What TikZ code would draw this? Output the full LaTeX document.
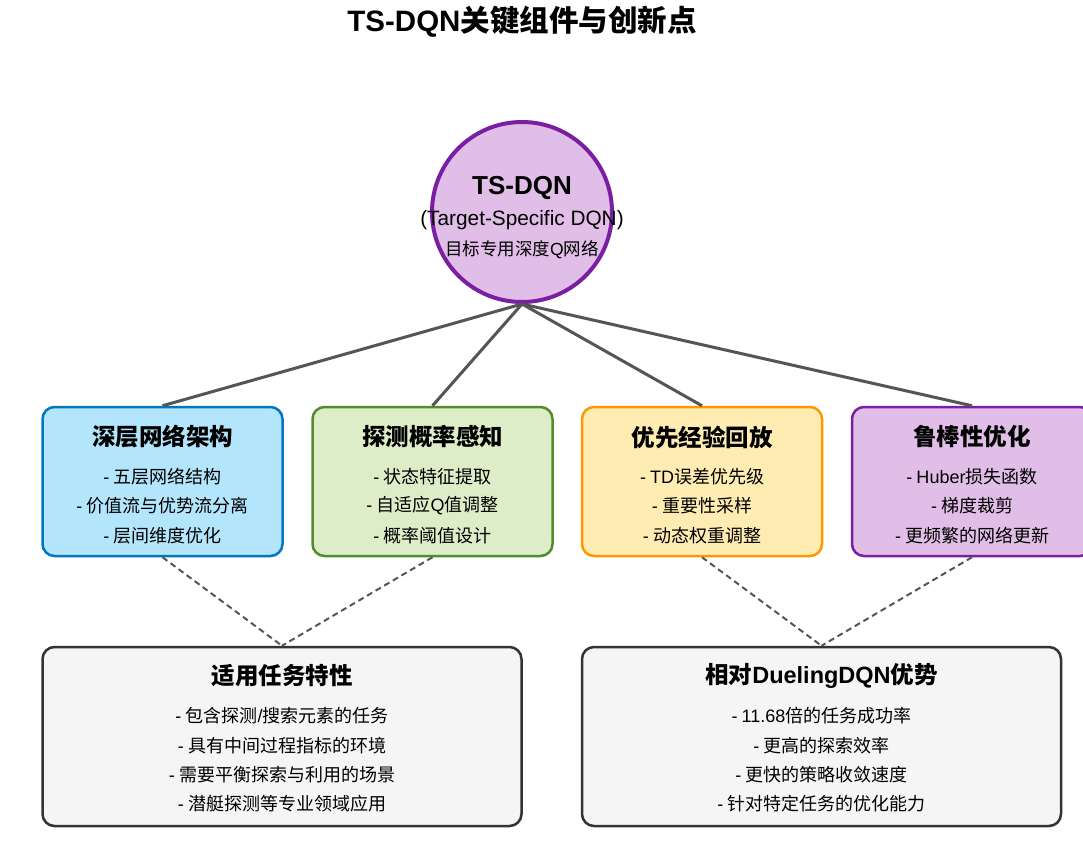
\documentclass[tikz,border=0pt]{standalone}
\usepackage{fontspec}
\setmainfont{Noto Sans CJK SC}
\newfontfamily\en{Liberation Sans}
\usetikzlibrary{calc}

\definecolor{bluefill}{HTML}{B3E5FC}
\definecolor{blueline}{HTML}{0277BD}
\definecolor{greenfill}{HTML}{DCEDC8}
\definecolor{greenline}{HTML}{558B2F}
\definecolor{amberfill}{HTML}{FFECB3}
\definecolor{amberline}{HTML}{FF9800}
\definecolor{violetfill}{HTML}{E1BEE7}
\definecolor{violetline}{HTML}{7B1FA2}
\definecolor{greyfill}{HTML}{F5F5F5}
\definecolor{greyline}{HTML}{333333}
\definecolor{linkgrey}{HTML}{555555}

\newcommand{\dash}{{\en-}\ }

\tikzset{
  compbox/.style={draw, rounded corners=12pt, line width=2.5pt, inner sep=0pt,
    minimum width=240pt, minimum height=149pt},
  sumbox/.style={draw=greyline, fill=greyfill, rounded corners=12pt, line width=2.5pt,
    inner sep=0pt, minimum width=479pt, minimum height=179pt},
  hubnode/.style={circle, draw=violetline, fill=violetfill, line width=4pt,
    minimum size=180pt, inner sep=0pt},
  boxtitle/.style={font=\fontsize{23.5}{26}\selectfont\bfseries, inner sep=0pt},
  itemtext/.style={font=\fontsize{18}{20}\selectfont, inner sep=0pt},
  solidlink/.style={draw=linkgrey, line width=3pt},
  dashlink/.style={draw=linkgrey, line width=2pt, dash pattern=on 6pt off 4pt},
}

\begin{document}
\begin{tikzpicture}[x=1pt,y=-1pt]
\useasboundingbox (0,0) rectangle (1083,848);
\fill[white] (0,0) rectangle (1083,848);

% title
\node[font=\fontsize{29.5}{32}\selectfont\bfseries, inner sep=0pt] (title) at (522,22)
  {{\en TS-DQN}关键组件与创新点};

% central hub
\node[hubnode] (hub) at (522,212) {};

% component boxes
\node[compbox, fill=bluefill, draw=blueline] (b1) at (162.5,481.5) {};
\node[compbox, fill=greenfill, draw=greenline] (b2) at (432.5,481.5) {};
\node[compbox, fill=amberfill, draw=amberline] (b3) at (702,481.5) {};
\node[compbox, fill=violetfill, draw=violetline] (b4) at (972,481.5) {};

% summary boxes
\node[sumbox] (s1) at (282,736.5) {};
\node[sumbox] (s2) at (821.5,736.5) {};

% links from the hub to the components
\foreach \b in {b1,b2,b3,b4}
  \draw[solidlink] (hub.south) -- (\b.north);

% dashed links to the summaries
\draw[dashlink] (b1.south) -- (s1.north);
\draw[dashlink] (b2.south) -- (s1.north);
\draw[dashlink] (b3.south) -- (s2.north);
\draw[dashlink] (b4.south) -- (s2.north);

% hub text
\node[font=\en\fontsize{26}{28}\selectfont\bfseries, inner sep=0pt] (hubA) at (522,188) {TS-DQN};
\node[font=\en\fontsize{20.8}{22}\selectfont, inner sep=0pt] (hubB) at (522,220) {(Target-Specific DQN)};
\node[font=\fontsize{17.5}{19}\selectfont, inner sep=0pt] (hubC) at (522,250) {目标专用深度{\en Q}网络};

% component texts
\node[boxtitle] (b1t) at (162.5,437) {深层网络架构};
\node[itemtext] (b1a) at (162.5,477) {\dash 五层网络结构};
\node[itemtext] (b1b) at (162.5,506) {\dash 价值流与优势流分离};
\node[itemtext] (b1c) at (162.5,536) {\dash 层间维度优化};

\node[boxtitle] (b2t) at (432.5,437) {探测概率感知};
\node[itemtext] (b2a) at (432.5,477) {\dash 状态特征提取};
\node[itemtext] (b2b) at (432.5,506) {\dash 自适应{\en Q}值调整};
\node[itemtext] (b2c) at (432.5,536) {\dash 概率阈值设计};

\node[boxtitle] (b3t) at (702,437) {优先经验回放};
\node[itemtext] (b3a) at (702,477) {\dash {\en TD}误差优先级};
\node[itemtext] (b3b) at (702,506) {\dash 重要性采样};
\node[itemtext] (b3c) at (702,536) {\dash 动态权重调整};

\node[boxtitle] (b4t) at (972,437) {鲁棒性优化};
\node[itemtext] (b4a) at (972,477) {\dash {\en Huber}损失函数};
\node[itemtext] (b4b) at (972,506) {\dash 梯度裁剪};
\node[itemtext] (b4c) at (972,536) {\dash 更频繁的网络更新};

% summary texts
\node[boxtitle] (s1t) at (282,676) {适用任务特性};
\node[itemtext] (s1a) at (282,716) {\dash 包含探测{\en /}搜索元素的任务};
\node[itemtext] (s1b) at (282,746) {\dash 具有中间过程指标的环境};
\node[itemtext] (s1c) at (282,775) {\dash 需要平衡探索与利用的场景};
\node[itemtext] (s1d) at (282,804) {\dash 潜艇探测等专业领域应用};

\node[boxtitle] (s2t) at (821.5,676) {相对{\en DuelingDQN}优势};
\node[itemtext] (s2a) at (821.5,716) {\dash {\en 11.68}倍的任务成功率};
\node[itemtext] (s2b) at (821.5,746) {\dash 更高的探索效率};
\node[itemtext] (s2c) at (821.5,775) {\dash 更快的策略收敛速度};
\node[itemtext] (s2d) at (821.5,804) {\dash 针对特定任务的优化能力};
\end{tikzpicture}
\end{document}
